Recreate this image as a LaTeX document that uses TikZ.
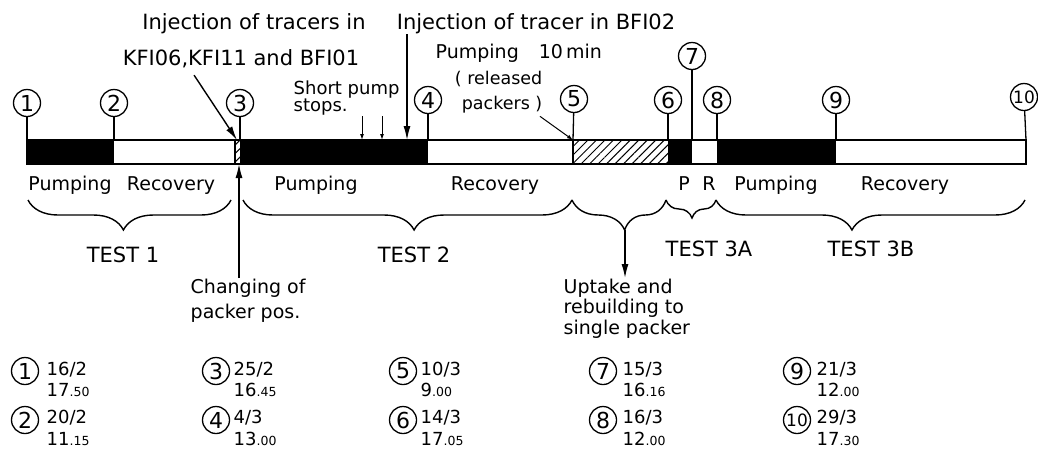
\documentclass[tikz,border=0pt]{standalone}
\usepackage{fontspec}
\setmainfont{DejaVu Sans}
\usetikzlibrary{positioning,arrows.meta,patterns.meta,decorations.pathreplacing}

\newcommand{\hhmm}[2]{#1{\fontsize{12.5}{12.5}\selectfont.#2}}

\begin{document}
\begin{tikzpicture}[x=1pt, y=-1pt, line width=1.4pt,
    evt/.style={circle, draw, line width=1.3pt, minimum size=27pt, inner sep=0pt, font=\fontsize{22}{22}\selectfont},
    toptxt/.style={inner sep=0pt, font=\fontsize{21}{25}\selectfont},
    lbl/.style={inner sep=0pt, font=\fontsize{19}{23}\selectfont},
    datetxt/.style={inner sep=0pt, anchor=base west, font=\fontsize{18}{18}\selectfont},
    note/.style={inner sep=0pt, font=\fontsize{17.5}{25}\selectfont},
    bigarrow/.style={-{Latex[length=14pt, width=7pt]}},
    tinyarrow/.style={-{Latex[length=6pt, width=4pt]}, line width=1pt},
    tbrace/.style={decorate, decoration={brace, mirror, amplitude=30pt, aspect=#1}},
    hatchseg/.style={pattern={Lines[angle=45, distance=6pt, line width=1pt]}}]
  \useasboundingbox (0,0) rectangle (1038,448);

  % points on the bar
  \coordinate (t1) at (27,140);
  \coordinate (t2) at (114,140);
  \coordinate (t3) at (240,140);
  \coordinate (t4) at (428,140);
  \coordinate (t5) at (573,140);
  \coordinate (t6) at (668,140);
  \coordinate (t7) at (692,140);
  \coordinate (t8) at (717,140);
  \coordinate (t9) at (836,140);
  \coordinate (t10) at (1026,140);
  \coordinate (k3) at (237,140);
  \coordinate (b3) at (239,164);
  \coordinate (i2) at (407,140);
  \coordinate (s1) at (362,140);
  \coordinate (s2) at (382,140);

  % bar
  \fill (27,140) rectangle (114,164);
  \path[hatchseg] (235,140) rectangle (240,164);
  \fill (240,140) rectangle (428,164);
  \path[hatchseg] (573,140) rectangle (668,164);
  \fill (668,140) rectangle (692,164);
  \fill (717,140) rectangle (836,164);
  \draw (27,140) rectangle (1026,164);
  \draw (235,140) -- (235,164);
  \draw (573,140) -- (573,164);

  % event markers
  \node[evt] (m1) at (27,103) {1};
  \node[evt] (m2) at (114,103) {2};
  \node[evt] (m3) at (240,103) {3};
  \node[evt] (m4) at (428,100) {4};
  \node[evt] (m5) at (574,99) {5};
  \node[evt] (m6) at (668,100) {6};
  \node[evt] (m7) at (692,56) {7};
  \node[evt] (m8) at (717,100) {8};
  \node[evt] (m9) at (836,100) {9};
  \node[evt, font=\fontsize{17}{17}\selectfont] (m10) at (1024,97) {10};
  \draw[line width=1.3pt] (m1) -- (t1);
  \draw[line width=1.3pt] (m2) -- (t2);
  \draw[line width=1.3pt] (m3) -- (t3);
  \draw[line width=1.3pt] (m4) -- (t4);
  \draw[line width=1.3pt] (m5) -- (t5);
  \draw[line width=1.3pt] (m6) -- (t6);
  \draw[line width=1.3pt] (m7) -- (t7);
  \draw[line width=1.3pt] (m8) -- (t8);
  \draw[line width=1.3pt] (m9) -- (t9);
  \draw[line width=1.3pt] (m10) -- (t10);

  % notes above the bar
  \node[toptxt, anchor=base] (inj1) at (254,29) {Injection of tracers in};
  \node[toptxt, anchor=base] (kfi) at (241,65) {KFI06,KFI11 and BFI01};
  \node[toptxt, anchor=base] (inj2) at (536,29) {Injection of tracer in BFI02};
  \node[lbl, anchor=base west] (pmp) at (435,58) {Pumping\hspace{20pt}10\,min};
  \node[note, align=right, anchor=north east] (rel) at (543,70) {( released\\packers )};
  \node[note, align=left, anchor=north west, font=\fontsize{18}{14}\selectfont] (stp) at (293,80) {Short pump\\stops.};
  \draw[bigarrow] ([xshift=72pt, yshift=-7pt]kfi.south west) -- (k3);
  \draw[bigarrow] (i2 |- inj2.south) -- (i2);
  \draw[tinyarrow] (s1 |- stp.south) -- (s1);
  \draw[tinyarrow] (s2 |- stp.south) -- (s2);
  \draw[tinyarrow] ([xshift=-3pt, yshift=-3pt]rel.south east) -- (t5);

  % phases below the bar
  \node[lbl, anchor=base] (pu1) at (70,190) {Pumping};
  \node[lbl, anchor=base] (re1) at (171,190) {Recovery};
  \node[lbl, anchor=base] (pu2) at (316,190) {Pumping};
  \node[lbl, anchor=base] (re2) at (495,190) {Recovery};
  \node[lbl, anchor=base] (pp) at (684,190) {P};
  \node[lbl, anchor=base] (rr) at (709,190) {R};
  \node[lbl, anchor=base] (pu3) at (776,190) {Pumping};
  \node[lbl, anchor=base] (re3) at (905,190) {Recovery};

  % braces
  \coordinate (u0) at (28,200);
  \coordinate (u1) at (231,200);
  \coordinate (u2) at (243,200);
  \coordinate (u3) at (572,200);
  \coordinate (u4) at (666,200);
  \coordinate (u5) at (716,200);
  \coordinate (u6) at (1025,200);
  \coordinate (tip5) at (625,230);
  \draw[tbrace=0.47] (u0) -- (u1);
  \draw[tbrace=0.52] (u2) -- (u3);
  \draw[tbrace=0.56] (u3) -- (u4);
  \draw[tbrace=0.52, decoration={amplitude=18pt}] (u4) -- (u5);
  \draw[tbrace=0.44] (u5) -- (u6);

  \node[toptxt, anchor=base] (test1) at (123,262) {TEST 1};
  \node[toptxt, anchor=base] (test2) at (414,262) {TEST 2};
  \node[toptxt, anchor=base] (test3a) at (709,256) {TEST 3A};
  \node[toptxt, anchor=base] (test3b) at (871,256) {TEST 3B};

  \node[lbl, align=left, anchor=north west, font=\fontsize{19}{25}\selectfont] (chg) at (190,278) {Changing of\\packer pos.};
  \node[lbl, align=left, anchor=north west, font=\fontsize{19}{20.5}\selectfont] (upt) at (563,278) {Uptake and\\rebuilding to\\single packer};
  \draw[bigarrow] (b3 |- chg.north) -- (b3);
  \draw[bigarrow] (tip5) -- (tip5 |- upt.north);

  % dates and times
  \node[evt] (l1) at (25,371) {1};
  \node[datetxt] (d1) at (46,375) {16/2};
  \node[datetxt] (h1) at (46,396) {\hhmm{17}{50}};
  \node[evt] (l2) at (25,420) {2};
  \node[datetxt] (d2) at (46,423) {20/2};
  \node[datetxt] (h2) at (46,445) {\hhmm{11}{15}};
  \node[evt] (l3) at (216,371) {3};
  \node[datetxt] (d3) at (233,375) {25/2};
  \node[datetxt] (h3) at (233,396) {\hhmm{16}{45}};
  \node[evt] (l4) at (216,420) {4};
  \node[datetxt] (d4) at (233,423) {4/3};
  \node[datetxt] (h4) at (233,445) {\hhmm{13}{00}};
  \node[evt] (l5) at (403,371) {5};
  \node[datetxt] (d5) at (420,375) {10/3};
  \node[datetxt] (h5) at (420,396) {\hhmm{9}{00}};
  \node[evt] (l6) at (403,420) {6};
  \node[datetxt] (d6) at (420,423) {14/3};
  \node[datetxt] (h6) at (420,445) {\hhmm{17}{05}};
  \node[evt] (l7) at (603,371) {7};
  \node[datetxt] (d7) at (622,375) {15/3};
  \node[datetxt] (h7) at (622,396) {\hhmm{16}{16}};
  \node[evt] (l8) at (603,420) {8};
  \node[datetxt] (d8) at (622,423) {16/3};
  \node[datetxt] (h8) at (622,445) {\hhmm{12}{00}};
  \node[evt] (l9) at (797,371) {9};
  \node[datetxt] (d9) at (816,375) {21/3};
  \node[datetxt] (h9) at (816,396) {\hhmm{12}{00}};
  \node[evt, font=\fontsize{17}{17}\selectfont] (l10) at (797,420) {10};
  \node[datetxt] (d10) at (816,423) {29/3};
  \node[datetxt] (h10) at (816,445) {\hhmm{17}{30}};
\end{tikzpicture}
\end{document}
